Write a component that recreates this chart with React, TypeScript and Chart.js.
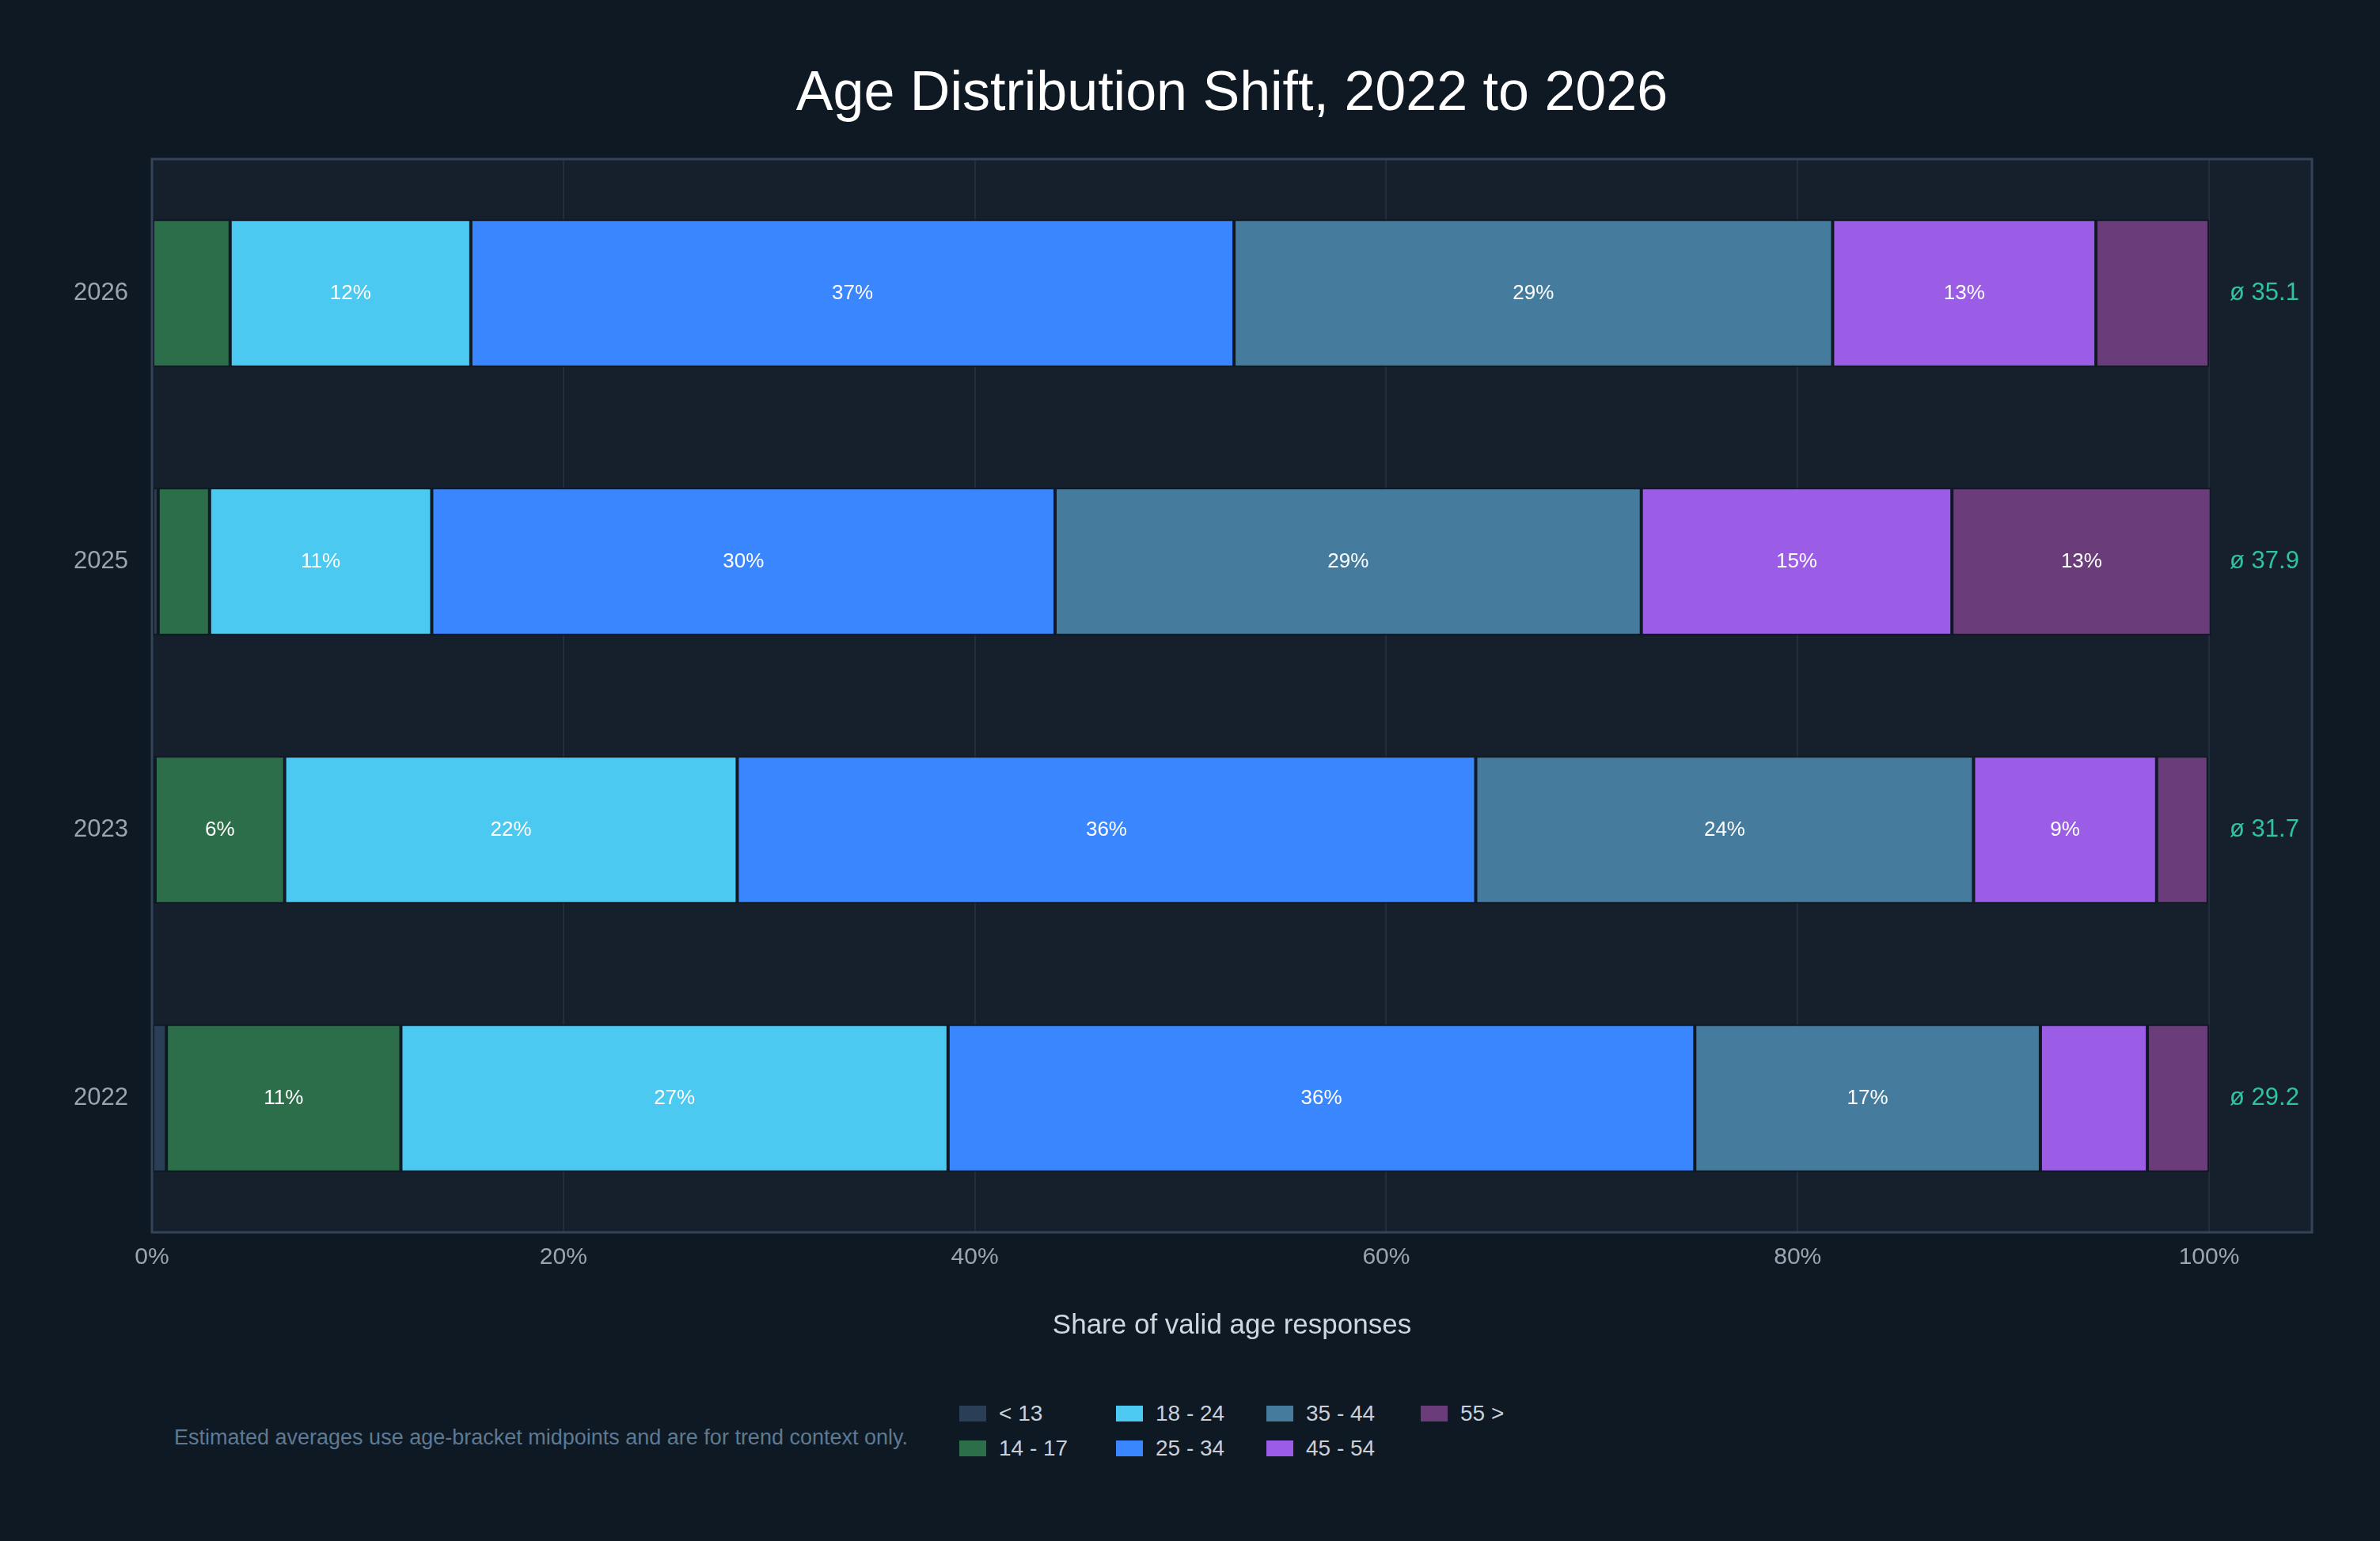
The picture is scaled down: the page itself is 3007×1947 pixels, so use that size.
import React, { useEffect, useRef } from "react";
import { Chart, registerables } from "chart.js";
Chart.register(...registerables);

const years = ["2026", "2025", "2023", "2022"];
const brackets = ["< 13", "14 - 17", "18 - 24", "25 - 34", "35 - 44", "45 - 54", "55 >"];
const colors = ["#2a3f57", "#2d6e4a", "#4cc9f0", "#3a86ff", "#457b9d", "#9b5de5", "#6a3d7a"];
const under13 = [0.0, 0.3, 0.15, 0.7];
const age14to17 = [3.8, 2.5, 6.3, 11.4];
const age18to24 = [11.7, 10.8, 22.0, 26.6];
const age25to34 = [37.1, 30.3, 35.9, 36.3];
const age35to44 = [29.1, 28.5, 24.2, 16.8];
const age45to54 = [12.8, 15.1, 8.9, 5.2];
const age55plus = [5.5, 12.6, 2.5, 3.0];
const averages = ["ø 35.1", "ø 37.9", "ø 31.7", "ø 29.2"];
const xTicks = [0, 20, 40, 60, 80, 100];

const series = [under13, age14to17, age18to24, age25to34, age35to44, age45to54, age55plus];
const FONT = "Helvetica, 'Liberation Sans', Arial, sans-serif";

export default function App() {
  const ref = useRef<HTMLCanvasElement>(null);
  useEffect(() => {
    document.body.style.margin = "0";
    document.body.style.background = "#0f1923";
    const plugin = {
      id: "deco",
      beforeDraw(c: any) {
        const a = c.chartArea;
        const ctx = c.ctx;
        ctx.save();
        ctx.fillStyle = "#161f2c";
        ctx.fillRect(a.left, a.top, a.right - a.left, a.bottom - a.top);
        ctx.restore();
      },
      afterDraw(c: any) {
        const a = c.chartArea;
        const ctx = c.ctx;
        ctx.save();
        ctx.strokeStyle = "#33445a";
        ctx.lineWidth = 3;
        ctx.strokeRect(a.left, a.top, a.right - a.left, a.bottom - a.top);
        // bar labels
        ctx.font = `26px ${FONT}`;
        ctx.fillStyle = "#ffffff";
        ctx.textAlign = "center";
        ctx.textBaseline = "middle";
        c.data.datasets.forEach((ds: any, di: number) => {
          const meta = c.getDatasetMeta(di);
          meta.data.forEach((el: any, i: number) => {
            const v = ds.data[i];
            if (v >= 6) {
              const cx = (el.x + el.base) / 2;
              ctx.fillText(Math.round(v) + "%", cx, el.y);
            }
          });
        });
        // averages
        const xs = c.scales.x;
        const ys = c.scales.y;
        ctx.font = `31px ${FONT}`;
        ctx.fillStyle = "#2ec4a0";
        ctx.textAlign = "left";
        averages.forEach((t, i) => {
          ctx.fillText(t, xs.getPixelForValue(100) + 26, ys.getPixelForValue(i));
        });
        ctx.restore();
      },
    };
    const chart = new Chart(ref.current!, {
      type: "bar",
      data: {
        labels: years,
        datasets: series.map((d, i) => ({
          label: brackets[i],
          data: d,
          backgroundColor: colors[i],
          borderColor: "#0f1923",
          borderWidth: 2,
          borderSkipped: false,
          barPercentage: 0.55,
          categoryPercentage: 1,
        })),
      },
      options: {
        indexAxis: "y",
        animation: false,
        responsive: false,
        layout: { padding: { top: 201, right: 86, left: 0, bottom: 0 } },
        plugins: { legend: { display: false }, tooltip: { enabled: false } },
        scales: {
          x: {
            stacked: true,
            min: 0,
            max: 105,
            afterBuildTicks: (s: any) => {
              s.ticks = xTicks.map((v) => ({ value: v }));
            },
            afterFit: (s: any) => {
              s.height = 143;
            },
            grid: { color: "#222e3d", lineWidth: 2, drawTicks: false },
            border: { display: false },
            ticks: {
              color: "#9aa5b1",
              font: { size: 30, family: FONT },
              padding: 14,
              callback: (v: any) => v + "%",
            },
            title: {
              display: true,
              text: "Share of valid age responses",
              color: "#d0d7df",
              font: { size: 35, family: FONT },
              padding: { top: 4 },
            },
          },
          y: {
            stacked: true,
            afterFit: (s: any) => {
              s.width = 192;
            },
            grid: { display: false },
            border: { display: false },
            ticks: { color: "#9aa5b1", font: { size: 31, family: FONT }, padding: 22 },
          },
        },
      },
      plugins: [plugin],
    } as any);
    return () => chart.destroy();
  }, []);

  const legendCols = [
    [0, 1],
    [2, 3],
    [4, 5],
    [6],
  ];
  const colX = [1212, 1410, 1600, 1795];
  return (
    <div style={{ position: "relative", width: 3007, height: 1947, background: "#0f1923", fontFamily: FONT, overflow: "hidden" }}>
      <div style={{ position: "absolute", top: 75, left: 0, width: 3113, textAlign: "center", color: "#ffffff", fontSize: 70 }}>
        Age Distribution Shift, 2022 to 2026
      </div>
      <canvas ref={ref} width={3007} height={1700} style={{ position: "absolute", left: 0, top: 0, width: 3007, height: 1700 }} />
      {legendCols.map((col, ci) =>
        col.map((bi, ri) => (
          <div key={bi} style={{ position: "absolute", left: colX[ci], top: 1770 + ri * 44, display: "flex", alignItems: "center", color: "#c8d0da", fontSize: 28 }}>
            <span style={{ display: "inline-block", width: 34, height: 20, background: colors[bi], marginRight: 16 }} />
            {brackets[bi]}
          </div>
        ))
      )}
      <div style={{ position: "absolute", left: 220, top: 1801, color: "#5c7a94", fontSize: 27 }}>
        Estimated averages use age-bracket midpoints and are for trend context only.
      </div>
    </div>
  );
}
